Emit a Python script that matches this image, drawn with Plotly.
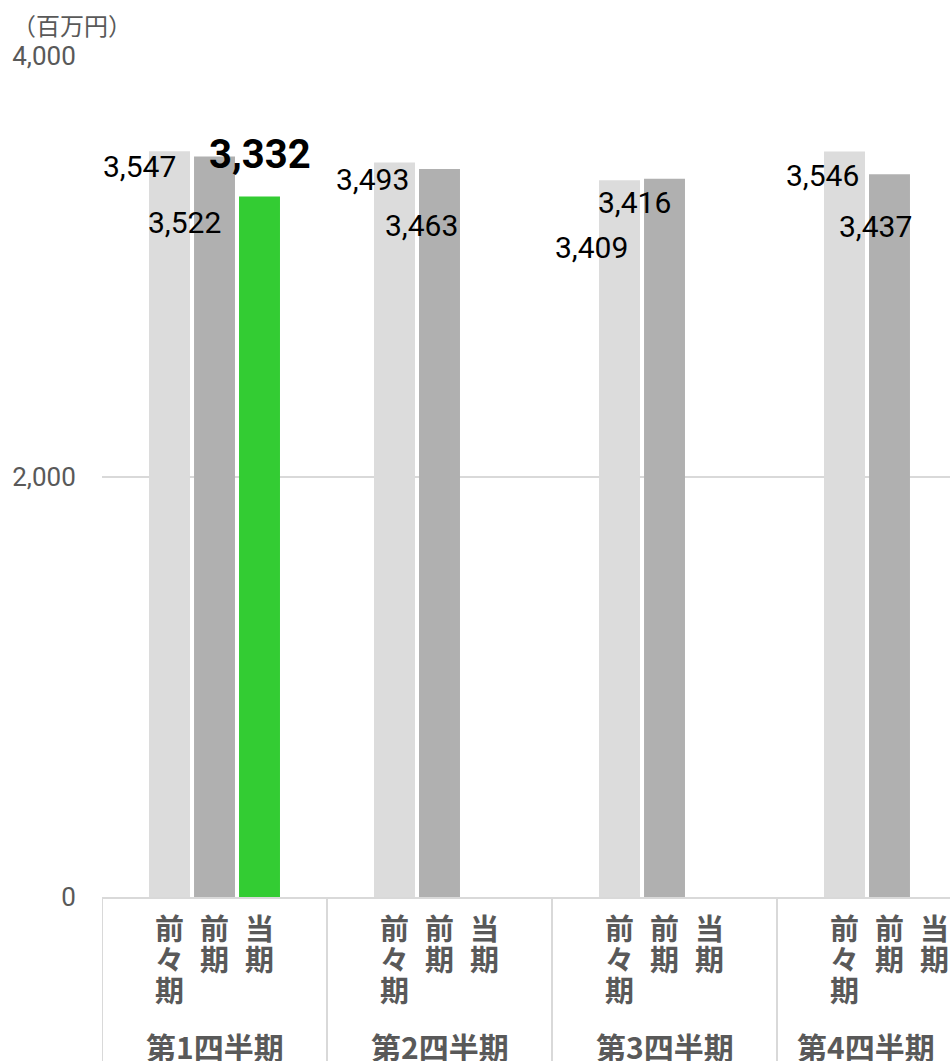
import plotly.graph_objects as go

# ---- data ----
quarters = ["第1四半期", "第2四半期", "第3四半期", "第4四半期"]
periods = ["前々期", "前期", "当期"]
prev2_vals = [3547, 3493, 3409, 3546]   # 前々期
prev1_vals = [3522, 3463, 3416, 3437]   # 前期
curr_vals = [3332, None, None, None]    # 当期
y_ticks = [0, 2000, 4000]
unit_label = "（百万円）"

# ---- style ----
colors = ["#DCDCDC", "#B0B0B0", "#33CC33"]
grid_col = "#D9D9D9"
txt_col = "#595959"
CJK = "Noto Sans CJK JP"
NUM = "Roboto"
bar_pitch = 45  # px between bars in a group
# label offsets (dx, dy) in px relative to top-centre of each bar (dy positive = down)
label_offsets = [
    [(-30, 15), (-22, 17), (-28, 67), (-22, 24)],
    [(-30, 66), (-18, 57), (-30, 24), (-14, 52)],
    [(0, -42), None, None, None],
]
label_fonts = [
    dict(family=NUM, size=30, color="black"),
    dict(family=NUM, size=30, color="black"),
    dict(family=NUM, size=40, color="black", weight="bold"),
]

series = [prev2_vals, prev1_vals, curr_vals]

fig = go.Figure()
for name, vals, col in zip(periods, series, colors):
    fig.add_trace(go.Bar(x=quarters, y=vals, name=name, marker=dict(color=col, line=dict(width=0)),
                         hoverinfo="skip"))

annotations = []
# data labels
for si, vals in enumerate(series):
    for qi, v in enumerate(vals):
        if v is None:
            continue
        dx, dy = label_offsets[si][qi]
        annotations.append(dict(
            x=quarters[qi], y=v, xref="x", yref="y",
            text=f"{v:,}", showarrow=False,
            xanchor="center", yanchor="middle",
            xshift=(si - 1) * bar_pitch + dx, yshift=-dy,
            font=label_fonts[si],
        ))

# vertical period labels under each bar
for qi, q in enumerate(quarters):
    for pi, p in enumerate(periods):
        for ci, ch in enumerate(p):
            annotations.append(dict(
                x=q, y=0, xref="x", yref="paper",
                text=ch, showarrow=False, xanchor="center", yanchor="middle",
                xshift=(pi - 1) * bar_pitch, yshift=-(30 + 31 * ci),
                font=dict(family=CJK, size=29, color=txt_col, weight="bold"),
            ))
    # quarter label (last one pulled in to stay inside the view)
    annotations.append(dict(
        x=q, y=0, xref="x", yref="paper",
        text=q, showarrow=False, xanchor="center", yanchor="middle",
        xshift=-24 if qi == len(quarters) - 1 else 0, yshift=-149,
        font=dict(family=CJK, size=30, color=txt_col, weight="bold"),
    ))

# unit label
annotations.append(dict(
    x=0, y=1, xref="paper", yref="paper", text=unit_label, showarrow=False,
    xanchor="left", yanchor="middle", xshift=-92, yshift=32,
    font=dict(family=CJK, size=24, color=txt_col),
))

# category dividers below axis
shapes = []
for k in range(len(quarters)):
    shapes.append(dict(type="line", xref="x", yref="paper",
                       x0=k - 0.5, x1=k - 0.5, y0=0, y1=-0.2,
                       line=dict(color=grid_col, width=2)))

fig.update_layout(
    width=950, height=1061,
    margin=dict(l=102, r=0, t=56, b=164),
    paper_bgcolor="white", plot_bgcolor="white",
    barmode="group", bargap=0.4, bargroupgap=0.09,
    showlegend=False,
    annotations=annotations, shapes=shapes,
    xaxis=dict(type="category", range=[-0.5, -0.5 + 848 / 225],
               showticklabels=False, showgrid=False, zeroline=False,
               showline=True, linecolor=grid_col, linewidth=2, ticks=""),
    yaxis=dict(range=[0, 4000], tickvals=y_ticks, ticktext=[f"{t:,}" for t in y_ticks],
               showgrid=True, gridcolor=grid_col, gridwidth=2, zeroline=False,
               showline=False, ticks="outside", ticklen=20, tickcolor="rgba(0,0,0,0)",
               tickfont=dict(family=NUM, size=26, color=txt_col)),
)

# remove the default page margin so the figure fills the window exactly
fig.write_html("out.html", config={"displayModeBar": False},
               post_script="document.body.style.margin='0';document.body.style.overflow='hidden';")
